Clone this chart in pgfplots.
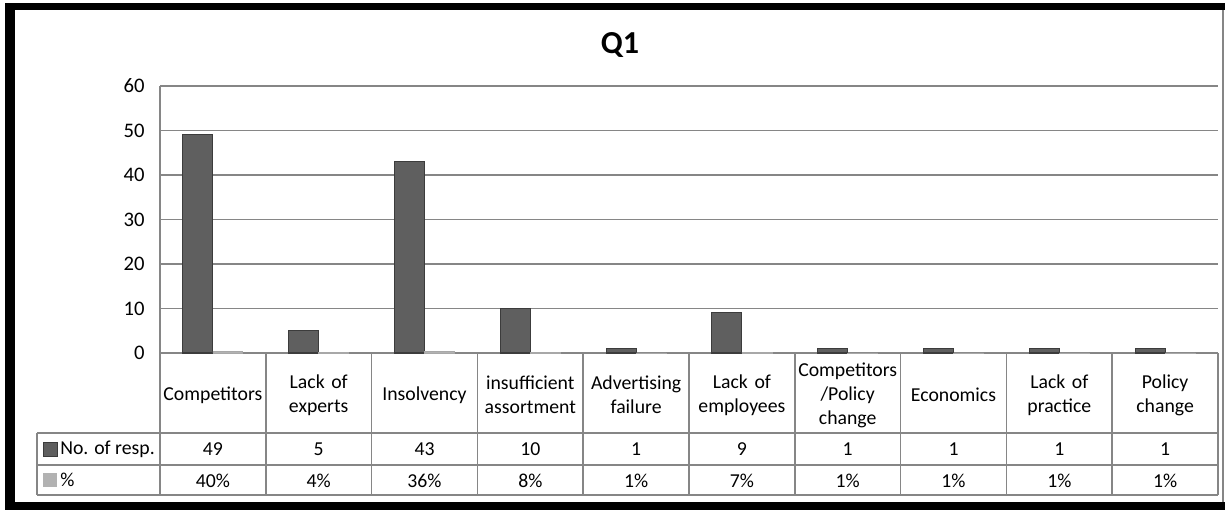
\documentclass[border=0pt]{standalone}
\usepackage{fontspec}
\setmainfont{Carlito}
\usepackage{pgfplots}
\usepackage{pgfplotstable}
\pgfplotsset{compat=1.18}
\definecolor{darkbar}{HTML}{5F5F5F}
\definecolor{darkedge}{HTML}{3C3C3C}
\definecolor{lightbar}{HTML}{B2B2B2}
\definecolor{lightedge}{HTML}{A8A8A8}
\definecolor{gridgray}{HTML}{868686}
\pgfplotstableread{
x n p
0 49 0.40
1 5 0.04
2 43 0.36
3 10 0.08
4 1 0.01
5 9 0.07
6 1 0.01
7 1 0.01
8 1 0.01
9 1 0.01
}\qdata
\newcommand\tf{\fontsize{14.8}{18}\selectfont}
\begin{document}
\begin{tikzpicture}
\fill[white] (0,0) rectangle (918.75pt,382.5pt);
\begin{axis}[
  at={(120pt,117.75pt)}, anchor=south west,
  scale only axis, width=793.5pt, height=200.25pt,
  xmin=-0.5, xmax=9.5, ymin=0, ymax=60,
  ytick={0,10,...,60},
  xtick={0,...,9},
  xticklabels={Competitors, Lack of\\experts, Insolvency, insufficient\\assortment, Advertising\\failure, Lack of\\employees, Competitors\\/Policy\\change, Economics, Lack of\\practice, Policy\\change},
  xticklabel style={font=\tf, align=center, text width=76pt, anchor=center, yshift=-30pt-1.5pt},
  yticklabel style={font=\fontsize{15.5}{18}\selectfont, anchor=east, xshift=-8pt},
  /pgf/number format/assume math mode=true,
  axis lines*=left,
  axis line style={gridgray, line width=1.1pt},
  major tick length=0pt,
  tick style={draw=none},
  ymajorgrids,
  grid style={gridgray, line width=1.1pt},
  ybar, bar width=0.283,
  clip=false,
  axis on top=false,
]
\addplot[fill=darkbar, draw=darkedge, line width=0.8pt, bar shift=-0.142] table[x=x,y=n]{\qdata};
\addplot[fill=lightbar, draw=lightedge, line width=0.6pt, bar shift=0.142] table[x=x,y=p]{\qdata};
% data table values
\foreach \i/\v/\q in {0/49/40, 1/5/4, 2/43/36, 3/10/8, 4/1/1, 5/9/7, 6/1/1, 7/1/1, 8/1/1, 9/1/1}{
  \edef\tmp{\noexpand\node[font=\noexpand\tf, anchor=center, yshift=-72pt] at (axis cs:\i,0) {\v};
    \noexpand\node[font=\noexpand\tf, anchor=center, yshift=-96pt] at (axis cs:\i,0) {\q\noexpand\%};}
  \tmp
}
\end{axis}
\begin{scope}[shift={(0pt,382.5pt)}, x=0.75pt, y=-0.75pt]
  % outer frame
  \fill[black] (5,3) rectangle (1225,10);
  \fill[black] (5,3) rectangle (15,510);
  \fill[black] (5,502) rectangle (1225,510);
  \draw[gridgray, line width=0.8pt] (1223,10) -- (1223,502);
  % table lines
  \foreach \k in {0,...,10}{
    \draw[gridgray, line width=1.1pt] ({160+105.8*\k},353) -- ({160+105.8*\k},495);
  }
  \draw[gridgray, line width=1.1pt] (37,433) -- (1218,433);
  \draw[gridgray, line width=1.1pt] (37,465) -- (1218,465);
  \draw[gridgray, line width=1.1pt] (37,495) -- (1218,495);
  \draw[gridgray, line width=1.1pt] (37,433) -- (37,495);
  % legend keys
  \fill[darkbar] (43,442) rectangle (57,456);
  \draw[darkedge, line width=0.6pt] (43,442) rectangle (57,456);
  \fill[lightbar] (43,473) rectangle (57,487);
  \node[font=\tf, anchor=west, inner sep=0pt] at (60,449) {No. of resp.};
  \node[font=\tf, anchor=west, inner sep=0pt] at (60,480) {\%};
  % title
  \node[font=\fontsize{24}{28}\selectfont\bfseries] at (620,45) {Q1};
\end{scope}
\end{tikzpicture}
\end{document}
